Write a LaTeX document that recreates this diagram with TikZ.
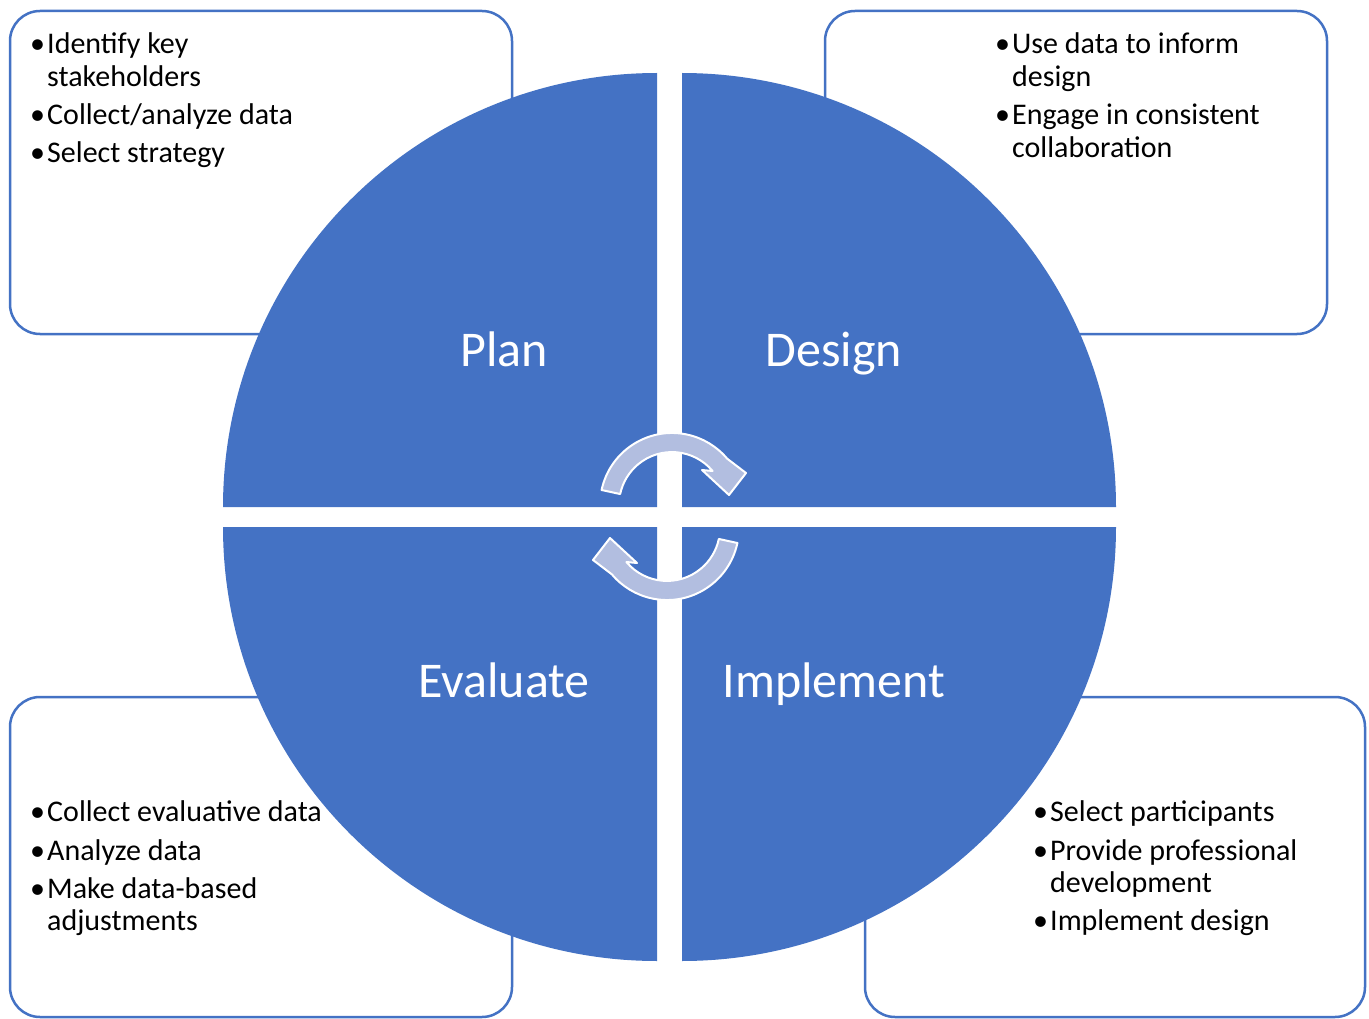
\documentclass[tikz,border=0pt]{standalone}
\usepackage{fontspec}
\setmainfont{Carlito}
\definecolor{qblue}{RGB}{68,114,196}
\definecolor{arrowfill}{RGB}{178,190,224}
\begin{document}
\begin{tikzpicture}[x=1pt,y=-1pt,
  infobox/.style={draw=qblue, line width=2.5pt, fill=white, rounded corners=30pt},
  quarter/.style={fill=qblue},
  cyclearrow/.style={fill=arrowfill, draw=white, line width=2pt, line join=round},
  phase/.style={font=\fontsize{50}{60}\selectfont, text=white, anchor=base, inner sep=0pt},
  itemtext/.style={font=\fontsize{30}{33}\selectfont, anchor=base west, inner sep=0pt},
  itemdot/.style={font=\fontsize{30}{33}\selectfont, anchor=base, inner sep=0pt}]
\useasboundingbox (0,0) rectangle (1369,1019);
\fill[white] (0,0) rectangle (1369,1019);
% boxes
\path[infobox] (10,11) rectangle (512,334);
\path[infobox] (825,11) rectangle (1327,334);
\path[infobox] (10,697) rectangle (512,1017);
\path[infobox] (865,697) rectangle (1365,1017);
% quarter discs
\path[quarter] (657,507) -- ++(-434,0) arc[start angle=180, end angle=270, radius=434] -- cycle;
\path[quarter] (682,507) -- ++(0,-434) arc[start angle=270, end angle=360, radius=434] -- cycle;
\path[quarter] (657,527) -- ++(-434,0) arc[start angle=180, end angle=90, radius=434] -- cycle;
\path[quarter] (682,527) -- ++(434,0) arc[start angle=0, end angle=90, radius=434] -- cycle;
% cycle arrows
\path[cyclearrow] (601.6,490.0) arc[start angle=-168, end angle=-40, radius=72]
  -- (746,473) -- (729,495) -- (702,470) -- (712.6,471.0)
  arc[start angle=-40, end angle=-168, radius=53] -- cycle;
\begin{scope}[rotate around={180:(669.5,516.5)}]
\path[cyclearrow] (601.6,490.0) arc[start angle=-168, end angle=-40, radius=72]
  -- (746,473) -- (729,495) -- (702,470) -- (712.6,471.0)
  arc[start angle=-40, end angle=-168, radius=53] -- cycle;
\end{scope}
% phase labels
\node[phase] (plan) at (504,366.7) {Plan};
\node[phase] (design) at (834,366.7) {Design};
\node[phase] (evaluate) at (504,697) {Evaluate};
\node[phase] (implement) at (834,697) {Implement};
% top-left items
\node[itemdot] (tl1d) at (37.5,53.3) {•};
\node[itemtext] (tl1a) at (47,53.3) {Identify key};
\node[itemtext] (tl1b) at (47,86.6) {stakeholders};
\node[itemdot] (tl2d) at (37.5,124.5) {•};
\node[itemtext] (tl2a) at (47,124.5) {Collect/analyze data};
\node[itemdot] (tl3d) at (37.5,163) {•};
\node[itemtext] (tl3a) at (47,163) {Select strategy};
% top-right items
\node[itemdot] (tr1d) at (1002.5,53.3) {•};
\node[itemtext] (tr1a) at (1012,53.3) {Use data to inform};
\node[itemtext] (tr1b) at (1012,86.6) {design};
\node[itemdot] (tr2d) at (1002.5,124.5) {•};
\node[itemtext] (tr2a) at (1012,124.5) {Engage in consistent};
\node[itemtext] (tr2b) at (1012,157.5) {collaboration};
% bottom-left items
\node[itemdot] (bl1d) at (37.5,821.5) {•};
\node[itemtext] (bl1a) at (47,821.5) {Collect evaluative data};
\node[itemdot] (bl2d) at (37.5,860) {•};
\node[itemtext] (bl2a) at (47,860) {Analyze data};
\node[itemdot] (bl3d) at (37.5,898) {•};
\node[itemtext] (bl3a) at (47,898) {Make data-based};
\node[itemtext] (bl3b) at (47,930.5) {adjustments};
% bottom-right items
\node[itemdot] (br1d) at (1040.5,821.5) {•};
\node[itemtext] (br1a) at (1050,821.5) {Select participants};
\node[itemdot] (br2d) at (1040.5,860) {•};
\node[itemtext] (br2a) at (1050,860) {Provide professional};
\node[itemtext] (br2b) at (1050,892) {development};
\node[itemdot] (br3d) at (1040.5,930) {•};
\node[itemtext] (br3a) at (1050,930) {Implement design};
\end{tikzpicture}
\end{document}
